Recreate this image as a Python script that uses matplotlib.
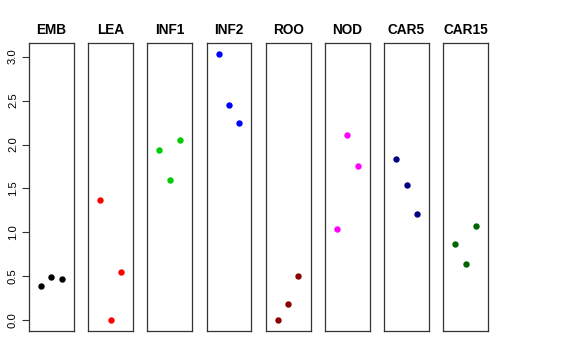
import matplotlib
matplotlib.use("Agg")
import matplotlib.pyplot as plt
import numpy as np

plt.rcParams['font.family'] = ['Liberation Sans', 'DejaVu Sans']

groups = ["EMB", "LEA", "INF1", "INF2", "ROO", "NOD", "CAR5", "CAR15"]
colors = ["#000000", "#FF0000", "#00CD00", "#0000FF", "#8B0000", "#FF00FF", "#000080", "#006400"]
xpos = [1, 2, 3]
values = {
    "EMB":   [0.39, 0.49, 0.47],
    "LEA":   [1.37, 0.00, 0.55],
    "INF1":  [1.94, 1.60, 2.05],
    "INF2":  [3.03, 2.45, 2.25],
    "ROO":   [0.00, 0.19, 0.50],
    "NOD":   [1.04, 2.11, 1.76],
    "CAR5":  [1.84, 1.54, 1.21],
    "CAR15": [0.87, 0.64, 1.07],
}
yticks = [0.0, 0.5, 1.0, 1.5, 2.0, 2.5, 3.0]
ytick_labels = ["0.0", "0.5", "1.0", "1.5", "2.0", "2.5", "3.0"]

W, H = 576, 360
fig = plt.figure(figsize=(W / 100, H / 100), dpi=100)

allv = np.concatenate([values[g] for g in groups])
ymin, ymax = 0.0, allv.max()
pad = 0.04 * (ymax - ymin)
ylim = (ymin - pad, ymax + pad)
xlim = (0 - 0.16, 4 + 0.16)

left0, pitch, pw = 29.0, 59.2, 44.7
top, bottom = 43.3, 331.0

for i, g in enumerate(groups):
    l = left0 + i * pitch
    ax = fig.add_axes([l / W, (H - bottom) / H, pw / W, (bottom - top) / H])
    ax.plot(xpos, values[g], 'o', color=colors[i], markersize=4.6, markeredgewidth=0)
    ax.set_xlim(*xlim)
    ax.set_ylim(*ylim)
    ax.set_xticks([])
    for s in ax.spines.values():
        s.set_color('#333333')
        s.set_linewidth(0.9)
    ax.set_title(g, fontsize=9.8, fontweight='bold', pad=6.5)
    if i == 0:
        ax.set_yticks(yticks)
        ax.set_yticklabels(ytick_labels, rotation=90, va='center', fontsize=8.1)
        ax.tick_params(axis='y', length=5, width=0.8, pad=3, color='#333333')
    else:
        ax.set_yticks([])

fig.savefig("out.png", dpi=100)
